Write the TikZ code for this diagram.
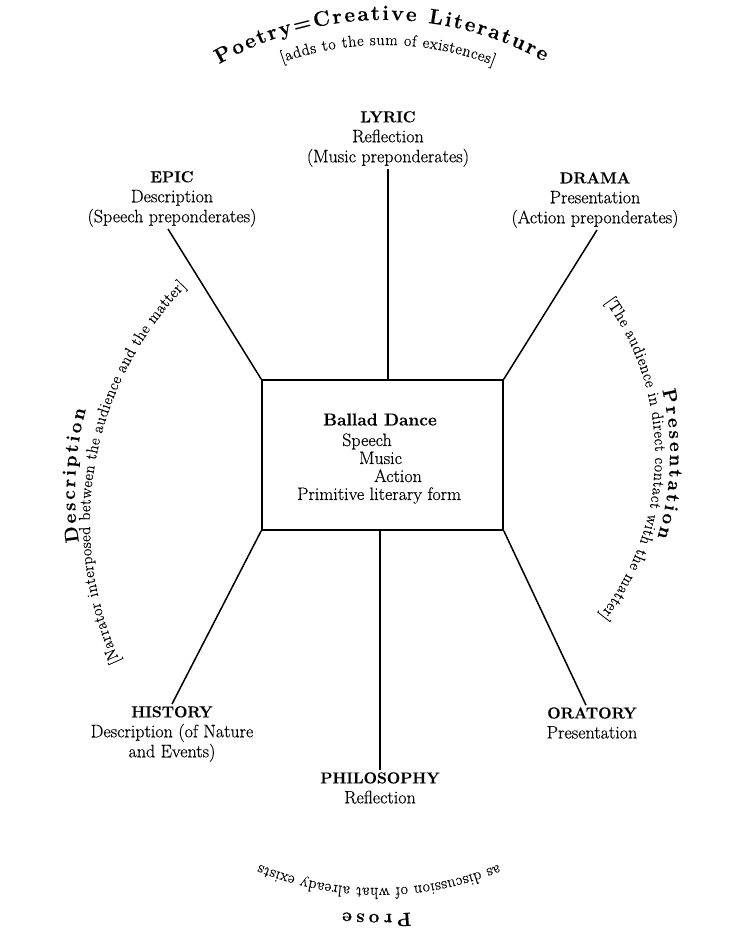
\documentclass[tikz,border=0pt]{standalone}
\usepackage{fontspec}
\setmainfont{Latin Modern Roman}[UprightFeatures={FakeBold=0.35}, BoldFeatures={FakeBold=0.25}]
\usetikzlibrary{decorations.text}
\newcommand\bodyfont{\fontsize{18}{20}\selectfont}
\newcommand\capfont{\fontsize{15.8}{20}\selectfont\bfseries}
\newcommand\ttlfont{\fontsize{21}{24}\selectfont\bfseries}
\newcommand\sidettlfont{\fontsize{19}{22}\selectfont\bfseries}
\newcommand\subfont{\fontsize{16}{18}\selectfont}
\begin{document}
\begin{tikzpicture}[x=1pt,y=1pt,
  lbl/.style={align=center, font=\bodyfont, inner sep=2pt},
  boxtext/.style={font=\bodyfont, inner sep=0pt},
  conn/.style={line width=1.5pt},
  arctext/.style={decorate, decoration={text along path, text align={fit to path}, text={#1}}}]
\fill[white] (0,0) rectangle (745,941);
\useasboundingbox (0,0) rectangle (745,941);

% central box
\node[draw, line width=1.5pt, minimum width=241pt, minimum height=150pt, inner sep=0pt] (box) at (382.5,486) {};
\node[boxtext, anchor=base, font=\fontsize{17.3}{20}\selectfont\bfseries] (ballad) at (380,515.5) {Ballad Dance};
\node[boxtext, anchor=base west] (speech) at (342,495) {Speech};
\node[boxtext, anchor=base west] (music) at (359,477) {Music};
\node[boxtext, anchor=base west] (action) at (374,459) {Action};
\node[boxtext, anchor=base west] (primitive) at (297,441) {Primitive literary form};

% outer labels
\node[lbl] (lyric) at (388,802) {{\capfont LYRIC}\\Reflection\\(Music preponderates)};
\node[lbl] (epic) at (172,742) {{\capfont EPIC}\\Description\\(Speech preponderates)};
\node[lbl] (drama) at (595,741) {{\capfont DRAMA}\\Presentation\\(Action preponderates)};
\node[lbl] (history) at (172,207) {{\capfont HISTORY}\\Description (of Nature\\and Events)};
\node[lbl] (philosophy) at (380,153) {{\capfont PHILOSOPHY}\\Reflection};
\node[lbl] (oratory) at (592,218) {{\capfont ORATORY}\\Presentation};

% connectors
\draw[conn] (lyric.south) -- (lyric.south |- box.north);
\draw[conn] ([xshift=-4pt]epic.south) -- (box.north west);
\draw[conn] ([xshift=2pt]drama.south) -- (box.north east);
\draw[conn] (history.north) -- (box.south west);
\draw[conn] (philosophy.north) -- (philosophy.north |- box.south);
\draw[conn] ([xshift=-6pt]oratory.north) -- (box.south east);

% curved texts: top
\path[arctext={|\ttlfont|Poetry=Creative Literature}]
  (384,591) ++(120:330) arc[start angle=120, end angle=61, radius=330];
\path[arctext={|\subfont|[adds to the sum of existences]}]
  (384,591) ++(109.5:305) arc[start angle=109.5, end angle=69, radius=305];

% left
\path[arctext={|\sidettlfont|Description}]
  (394,449) ++(189:319) arc[start angle=189, end angle=165, radius=319];
\path[arctext={|\subfont|[Narrator interposed between the audience and the matter]}]
  (427,419) ++(204.5:337) arc[start angle=204.5, end angle=135.7, radius=337];

% right
\path[arctext={|\sidettlfont|Presentation}]
  (394,486) ++(13.6:276) arc[start angle=13.6, end angle=-17.3, radius=276];
\path[arctext={|\subfont|[The audience in direct contact with the matter]}]
  (394,486) ++(36:261) arc[start angle=36, end angle=-38, radius=261];

% bottom
\path[arctext={|\sidettlfont|Prose}]
  (379,369) ++(-84.7:342) arc[start angle=-84.7, end angle=-96.1, radius=342];
\path[arctext={|\subfont|as discussion of what already exists}]
  (379,369) ++(-67.8:316) arc[start angle=-67.8, end angle=-112.2, radius=316];
\end{tikzpicture}
\end{document}
